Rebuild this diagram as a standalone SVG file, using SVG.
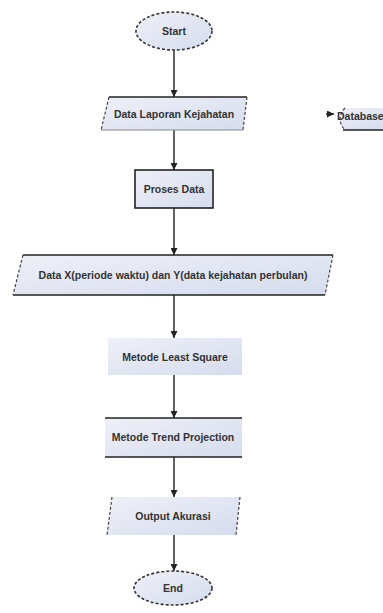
<svg xmlns="http://www.w3.org/2000/svg" width="383" height="613" viewBox="0 0 383 613">
<style>
.t{font-family:"Liberation Sans",Arial,sans-serif;font-size:10.5px;font-weight:bold;fill:#333;text-anchor:middle;dominant-baseline:central}
.f{fill:url(#g)}
.e{stroke:#333;stroke-width:1.6;stroke-dasharray:3 2;fill:url(#g)}
.s{stroke:#222;stroke-width:1.6;fill:none}
.l{stroke:#888;stroke-width:1.2;fill:none}
.d{stroke:#444;stroke-width:1.2;stroke-dasharray:3 2;fill:none}
.c{stroke:#222;stroke-width:1.4;fill:none;marker-end:url(#a)}
</style>
<defs>
<linearGradient id="g" x1="0" y1="0" x2="1" y2="1">
<stop offset="0" stop-color="#eef0f7"/>
<stop offset="1" stop-color="#d6dcee"/>
</linearGradient>
<marker id="a" viewBox="0 0 10 10" refX="10" refY="5" markerWidth="7" markerHeight="7" orient="auto" markerUnits="userSpaceOnUse">
<path d="M0,0 L10,5 L0,10 z" fill="#222"/>
</marker>
</defs>
<rect width="383" height="613" fill="#fff"/>
<g id="connectors">
<line class="c" x1="174" y1="50" x2="174" y2="97"/>
<line class="c" x1="174" y1="130" x2="174" y2="170"/>
<line class="c" x1="174" y1="208" x2="174" y2="255"/>
<line class="c" x1="174" y1="295" x2="174" y2="338"/>
<line class="c" x1="174" y1="375" x2="174" y2="418"/>
<line class="c" x1="174" y1="457" x2="174" y2="497"/>
<line class="c" x1="174" y1="535" x2="174" y2="571"/>
<line class="c" x1="326" y1="114" x2="334" y2="114"/>
</g>
<g id="start">
<ellipse class="e" cx="174" cy="31" rx="38" ry="19"/>
<text class="t" x="174" y="31">Start</text>
</g>
<g id="data-laporan">
<polygon class="f" points="109,97 247,97 243,130 101,130"/>
<line class="s" x1="109" y1="97" x2="247" y2="97"/>
<line class="l" x1="101" y1="130" x2="243" y2="130"/>
<line class="d" x1="109" y1="97" x2="101" y2="130"/>
<line class="d" x1="247" y1="97" x2="243" y2="130"/>
<text class="t" x="174" y="114">Data Laporan Kejahatan</text>
</g>
<g id="database">
<path class="f" d="M345,108 L383,108 L383,130 L345,130 Q335,119 345,108 z"/>
<line class="s" x1="343" y1="130" x2="383" y2="130"/>
<path class="d" d="M345,108 Q335,119 345,130"/>
<text class="t" x="337" y="116" style="text-anchor:start">Database</text>
</g>
<g id="proses-data">
<rect class="f" x="135" y="170" width="78" height="38"/>
<rect class="s" x="135" y="170" width="78" height="38"/>
<text class="t" x="174" y="189">Proses Data</text>
</g>
<g id="data-xy">
<polygon class="f" points="23,255 333,255 325,295 13,295"/>
<line class="s" x1="23" y1="255" x2="333" y2="255"/>
<line class="s" x1="13" y1="295" x2="325" y2="295"/>
<line class="d" x1="23" y1="255" x2="13" y2="295"/>
<line class="d" x1="333" y1="255" x2="325" y2="295"/>
<text class="t" x="173" y="275">Data X(periode waktu) dan Y(data kejahatan perbulan)</text>
</g>
<g id="least-square">
<rect class="f" x="108" y="338" width="134" height="37"/>
<text class="t" x="175" y="357">Metode Least Square</text>
</g>
<g id="trend-projection">
<rect class="f" x="105" y="418" width="137" height="39"/>
<line class="s" x1="105" y1="418" x2="242" y2="418"/>
<line class="s" x1="105" y1="457" x2="242" y2="457"/>
<text class="t" x="173" y="437">Metode Trend Projection</text>
</g>
<g id="output">
<polygon class="f" points="112,497 240,497 236,535 107,535"/>
<line class="d" x1="112" y1="497" x2="107" y2="535"/>
<line class="d" x1="240" y1="497" x2="236" y2="535"/>
<text class="t" x="173" y="516">Output Akurasi</text>
</g>
<g id="end">
<ellipse class="e" cx="173" cy="588" rx="39" ry="17"/>
<text class="t" x="173" y="588">End</text>
</g>
</svg>
